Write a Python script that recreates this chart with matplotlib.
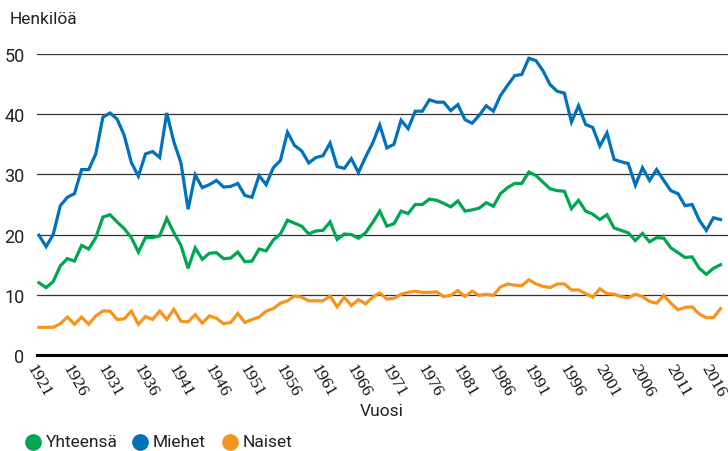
import numpy as np
from matplotlib import pyplot as plt
from matplotlib.lines import Line2D

years = list(range(1921, 2018))

# Itsemurhat / 100 000 asukasta (luettu kuvasta)
yhteensa = [
    12.0, 11.2, 12.2, 14.8, 16.0, 15.6, 18.2, 17.6, 19.5, 22.9,
    23.3, 22.1, 21.0, 19.5, 17.1, 19.5, 19.5, 19.8, 22.7, 20.3,
    18.2, 14.4, 17.8, 15.9, 16.9, 17.0, 16.0, 16.1, 17.1, 15.5,
    15.6, 17.6, 17.3, 19.1, 20.1, 22.4, 21.9, 21.4, 20.1, 20.6,
    20.7, 22.1, 19.2, 20.1, 20.0, 19.4, 20.3, 22.0, 23.9, 21.4,
    21.8, 23.9, 23.5, 25.0, 25.0, 25.9, 25.7, 25.2, 24.6, 25.6,
    23.9, 24.1, 24.4, 25.3, 24.7, 26.8, 27.8, 28.5, 28.5, 30.4,
    29.8, 28.7, 27.6, 27.3, 27.2, 24.3, 25.7, 23.9, 23.4, 22.5,
    23.3, 21.1, 20.7, 20.3, 19.0, 20.2, 18.8, 19.5, 19.4, 17.8,
    17.0, 16.2, 16.3, 14.4, 13.4, 14.4, 15.0,
]
miehet = [
    19.9, 18.0, 20.0, 24.8, 26.2, 26.8, 30.8, 30.8, 33.4, 39.5,
    40.2, 39.2, 36.5, 32.0, 29.7, 33.4, 33.8, 32.8, 40.2, 35.4,
    31.9, 24.2, 29.9, 27.8, 28.3, 29.0, 27.9, 28.0, 28.5, 26.5,
    26.2, 29.8, 28.3, 31.1, 32.3, 37.0, 34.8, 33.9, 31.9, 32.8,
    33.1, 35.2, 31.3, 31.0, 32.6, 30.3, 32.9, 35.2, 38.2, 34.4,
    35.0, 39.0, 37.6, 40.5, 40.5, 42.4, 42.0, 42.0, 40.6, 41.6,
    39.1, 38.5, 39.8, 41.4, 40.5, 43.1, 44.8, 46.4, 46.6, 49.3,
    48.9, 47.2, 44.9, 43.8, 43.5, 38.7, 41.4, 38.3, 37.8, 34.7,
    36.9, 32.5, 32.1, 31.8, 28.2, 31.1, 29.0, 30.8, 29.0, 27.3,
    26.8, 24.8, 25.0, 22.4, 20.7, 22.8, 22.5,
]
naiset = [
    4.6, 4.6, 4.6, 5.2, 6.3, 5.1, 6.3, 5.1, 6.5, 7.3,
    7.3, 5.9, 6.0, 7.3, 5.1, 6.4, 5.9, 7.3, 5.9, 7.6,
    5.6, 5.5, 6.7, 5.3, 6.5, 6.1, 5.2, 5.4, 6.9, 5.4,
    5.9, 6.3, 7.3, 7.7, 8.6, 9.0, 9.8, 9.6, 9.0, 9.0,
    9.0, 9.8, 8.0, 9.6, 8.2, 9.2, 8.5, 9.6, 10.3, 9.3,
    9.4, 10.1, 10.4, 10.6, 10.4, 10.4, 10.5, 9.7, 9.9, 10.7,
    9.7, 10.6, 9.9, 10.1, 9.9, 11.3, 11.8, 11.6, 11.5, 12.5,
    11.8, 11.4, 11.2, 11.8, 11.8, 10.8, 10.8, 10.2, 9.6, 11.0,
    10.2, 10.1, 9.7, 9.5, 10.1, 9.7, 8.9, 8.6, 9.9, 8.6,
    7.5, 7.9, 8.0, 6.8, 6.2, 6.2, 7.7,
]
labels = ["Yhteensä", "Miehet", "Naiset"]
colours = ["#00a651", "#0072bc", "#f7941d"]  # vihreä, sininen, oranssi

plt.rcParams["font.family"] = ["Roboto", "DejaVu Sans"]

fig = plt.figure(figsize=(7.28, 4.52), dpi=100)
ax = fig.add_axes([37 / 728, 96 / 452, 691 / 728, 301 / 452])

for series, colour in zip([yhteensa, miehet, naiset], colours):
    ax.plot(years, series, color=colour, lw=2.3, solid_joinstyle="miter", zorder=3)

ax.set_xlim(1920.72, 2018.05)
ax.set_ylim(0, 50)
ax.set_yticks(range(0, 51, 10))
ax.set_xticks(range(1921, 2017, 5))
ax.set_xticklabels([str(y) for y in range(1921, 2017, 5)], rotation=-60,
                   ha="center", va="top", family="Liberation Serif")
ax.tick_params(axis="both", length=0, labelsize=13, colors="#222222")
ax.tick_params(axis="x", pad=4, labelsize=12.5, colors="#111111")
ax.tick_params(axis="y", pad=9)

ax.grid(axis="y", color="#333333", lw=0.9, zorder=1)
for side in ["top", "right", "left", "bottom"]:
    ax.spines[side].set_visible(False)
ax.axhline(0, color="black", lw=2.2, zorder=4, clip_on=False)

fig.text(10 / 728, 1 - 20 / 452, "Henkilöä", fontsize=12.5, va="center", ha="left", color="#222222")
fig.text(382 / 728, 1 - 412 / 452, "Vuosi", fontsize=12.5, va="center", ha="center", color="#222222")

# selite alareunaan
ly = 1 - 443 / 452
for label, colour, x in zip(labels, colours, [33, 140, 230]):
    fig.add_artist(Line2D([x / 728], [ly], marker="o", markersize=11, color=colour,
                          linestyle="none", transform=fig.transFigure))
    fig.text((x + 13) / 728, ly, label, fontsize=12.5, va="center",
             ha="left", color="#222222")

fig.savefig("out.png", dpi=100)
